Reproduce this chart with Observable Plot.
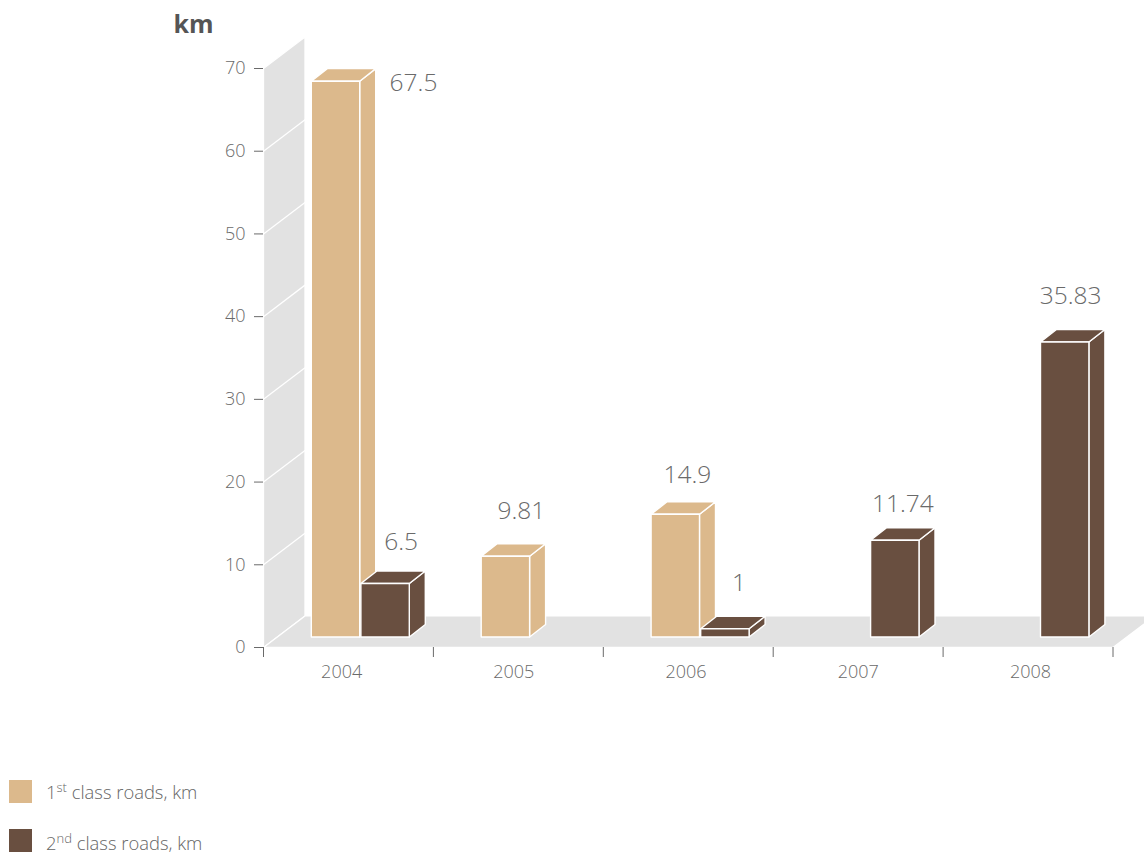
<!DOCTYPE html>
<html>
<head>
<meta charset="utf-8">
<script src="https://cdn.jsdelivr.net/npm/d3@7"></script>
<script src="https://cdn.jsdelivr.net/npm/@observablehq/plot@0.6"></script>
<style>
  html, body { margin: 0; padding: 0; background: #fff; overflow: hidden; }
  body { font-family: "Open Sans", sans-serif; font-weight: 300; color: #666; }
  #chart svg { display: block; }
  .legend { margin: 10px 0 0 9px; }
  .legend div { display: flex; align-items: center; height: 23px; margin-bottom: 26px; font-size: 18.4px; line-height: 23px; }
  .legend div + div span { position: relative; top: 2px; }
  .legend i { display: block; width: 23px; height: 23px; margin-right: 14px; }
  .legend sup { font-size: 13px; line-height: 0; }
</style>
</head>
<body>
<div id="chart"></div>
<div class="legend" id="legend"></div>
<script>
// Road construction per year, in kilometres
const years = [2004, 2005, 2006, 2007, 2008];
const firstClass = [67.5, 9.81, 14.9, null, null];
const secondClass = [6.5, null, 1, 11.74, 35.83];
const seriesNames = ["1st class roads, km", "2nd class roads, km"];
const seriesColors = ["#dcb98c", "#694f40"];
const plane = "plane";
const planeColor = "#e2e2e2";
const yTicks = [0, 10, 20, 30, 40, 50, 60, 70];

// Oblique projection, x in year slots and y in kilometres
const unitX = 169.9, unitY = 8.263;
const wallDx = 41.5 / unitX, wallDy = 31.5 / unitY;
const barDx = 16 / unitX, barDy = 12.5 / unitY;
const barLift = 10.5 / unitY, barScale = 0.9955;
const barWidth = 48.4 / unitX;
const slotStart = [47.8 / unitX, 97.4 / unitX];

const faces = [];
const addFace = (id, series, points) =>
  points.forEach(([x, y]) => faces.push({id, series, x, y}));

// Draws one box as front, top and side polygons
function addBar(series, seriesIndex, yearIndex, value) {
  const left = yearIndex + slotStart[seriesIndex];
  const right = left + barWidth;
  const bottom = barLift;
  const top = barLift + value * barScale;
  const key = `${seriesIndex}-${yearIndex}`;
  addFace(`${key}-side`, series, [
    [right, bottom], [right + barDx, bottom + barDy], [right + barDx, top + barDy], [right, top]
  ]);
  addFace(`${key}-top`, series, [
    [left, top], [right, top], [right + barDx, top + barDy], [left + barDx, top + barDy]
  ]);
  addFace(`${key}-front`, series, [
    [left, bottom], [right, bottom], [right, top], [left, top]
  ]);
}

[firstClass, secondClass].forEach((values, s) =>
  values.forEach((v, i) => { if (v != null) addBar(seriesNames[s], s, i, v); })
);

// Back wall and floor of the chart box
const shell = [];
const addShell = (id, points) => points.forEach(([x, y]) => shell.push({id, series: plane, x, y}));
addShell("wall", [[0, 0], [wallDx, wallDy], [wallDx, 70 + wallDy], [0, 70]]);
addShell("floor", [[0, 0], [5, 0], [5 + wallDx, wallDy], [wallDx, wallDy]]);

const wallLines = yTicks.slice(1, -1).flatMap(v => [
  {v, x: 0, y: v}, {v, x: wallDx, y: v + wallDy}
]);

// Value labels with their own offsets from the top of each box
const valueLabels = [
  {year: 0, s: 0, value: firstClass[0], dx: 78, dy: 2},
  {year: 0, s: 1, value: secondClass[0], dx: 16, dy: -41},
  {year: 1, s: 0, value: firstClass[1], dx: 16, dy: -45},
  {year: 2, s: 0, value: firstClass[2], dx: 12, dy: -39},
  {year: 2, s: 1, value: secondClass[2], dx: 14, dy: -46},
  {year: 3, s: 1, value: secondClass[3], dx: 8, dy: -36},
  {year: 4, s: 1, value: secondClass[4], dx: 6, dy: -46}
];

const inkSoft = "#6a6a6a";
const xTickLength = 10 / unitY;

const chart = Plot.plot({
  width: 1144,
  height: 770,
  marginLeft: 263,
  marginRight: 31.5,
  marginTop: 68,
  marginBottom: 123,
  style: {fontFamily: '"Open Sans", sans-serif', fontWeight: 300, background: "transparent"},
  x: {type: "linear", domain: [0, 5], axis: null},
  y: {type: "linear", domain: [0, 70], axis: null},
  color: {domain: [plane, ...seriesNames], range: [planeColor, ...seriesColors]},
  marks: [
    Plot.line(shell, {
      x: "x", y: "y", z: "id", fill: "series", stroke: "white",
      strokeWidth: 1.3, curve: "linear-closed", strokeLinejoin: "miter"
    }),
    Plot.line(wallLines, {x: "x", y: "y", z: "v", stroke: "white", strokeWidth: 1.3}),
    Plot.line(faces, {
      x: "x", y: "y", z: "id", fill: "series", stroke: "white",
      strokeWidth: 1.4, curve: "linear-closed", strokeLinejoin: "round"
    }),
    Plot.axisY({
      ticks: yTicks, tickSize: 9, tickPadding: 9, label: null, fontSize: 18,
      stroke: inkSoft, fill: inkSoft, strokeWidth: 1
    }),
    Plot.ruleX(d3.range(0, 6), {
      x: d => d, y1: 0, y2: -xTickLength, stroke: inkSoft, strokeWidth: 1
    }),
    Plot.text(years, {
      x: (d, i) => i * 1.0135 + 0.46, y: () => 0, dy: 25, text: d => String(d),
      fontSize: 18, fill: inkSoft
    }),
    ...valueLabels.map(l => Plot.text([l], {
      x: d => d.year + slotStart[d.s] + barWidth / 2,
      y: d => barLift + d.value * barScale,
      dx: l.dx, dy: l.dy, text: d => String(d.value),
      fontSize: 24.5, fill: inkSoft
    })),
    Plot.text(["km"], {
      frameAnchor: "top-left", dx: -90, dy: -53, text: d => d, textAnchor: "start",
      fontSize: 25, fontWeight: 700, fill: "#555555"
    })
  ]
});
document.getElementById("chart").append(chart);

// Legend rows underneath the plot
const legendMarkup = [["1", "st"], ["2", "nd"]];
document.getElementById("legend").innerHTML = seriesNames.map((name, i) => {
  const [n, suffix] = legendMarkup[i];
  const rest = name.slice(n.length + suffix.length);
  return `<div><i style="background:${seriesColors[i]}"></i><span>${n}<sup>${suffix}</sup>${rest}</span></div>`;
}).join("");
</script>
</body>
</html>
